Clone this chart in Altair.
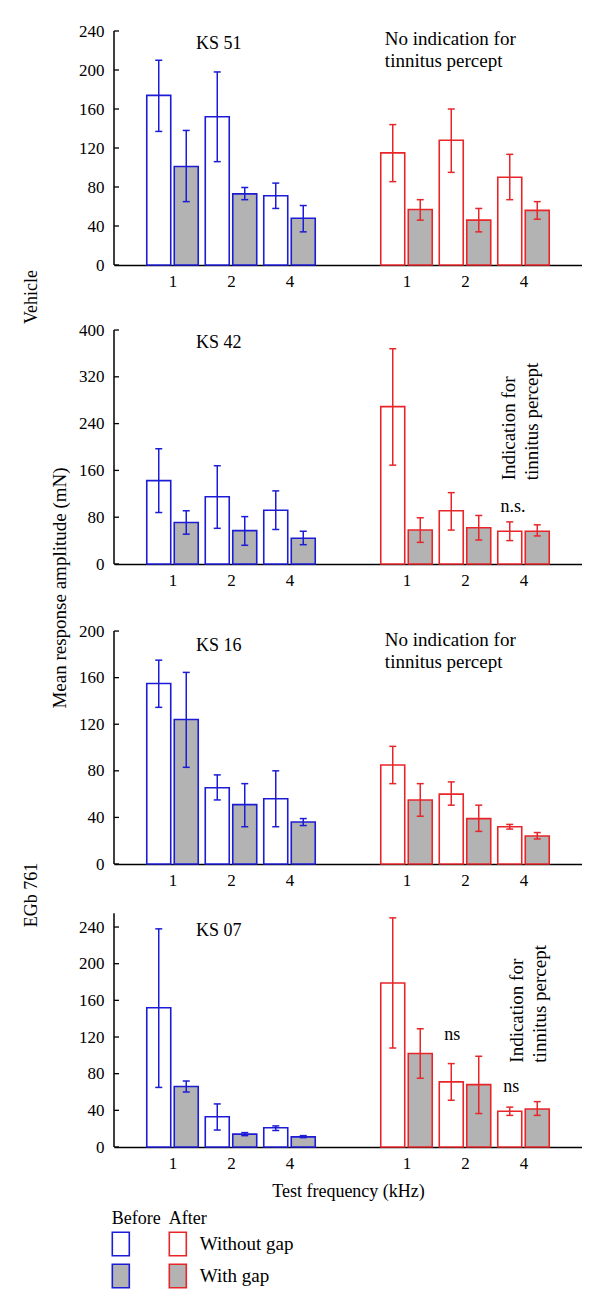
import altair as alt
import pandas as pd

# ---------------- data ----------------
FREQS = ["1", "2", "4"]
PANELS = ["KS 51", "KS 42", "KS 16", "KS 07"]
PHASES = ["Before", "After"]
GAPS = ["Without gap", "With gap"]

# means and error-bar ends, per panel, frequencies 1, 2, 4 kHz
before_without = [[174, 152, 71], [142.5, 115, 92], [155, 65.5, 56], [152, 33, 21]]
before_without_lo = [[137, 106, 58], [88, 61, 59], [134.5, 55, 32], [65, 18.5, 18]]
before_without_hi = [[210, 198, 84], [197, 168, 125], [175, 76.5, 80], [238, 47, 23]]
before_with = [[101, 73, 48], [71, 57, 44], [124, 51, 36], [66, 14, 11]]
before_with_lo = [[65, 67, 34], [51, 32, 33], [83, 32, 33], [60, 12.4, 10.2]]
before_with_hi = [[138, 79.5, 61], [91, 81, 56], [164.5, 69, 39], [72, 15.7, 12.4]]
after_without = [[115, 128, 90], [269, 91, 56], [85, 60, 32], [179, 71, 39]]
after_without_lo = [[85.5, 95, 67], [169, 58, 40], [69, 50.5, 30], [108, 51, 34.5]]
after_without_hi = [[144, 160, 113.5], [368, 122, 72], [101, 70.5, 34], [250, 91, 43.5]]
after_with = [[57, 46, 56], [58, 62, 56], [55, 39, 24], [102, 68, 41.5]]
after_with_lo = [[46, 34, 47], [37, 41, 48], [41, 28, 21.5], [75, 36.5, 34.5]]
after_with_hi = [[67, 58, 65], [79, 83, 67], [69, 50.5, 27], [129, 99, 49.5]]

Y_TICKS = [
    [0, 40, 80, 120, 160, 200, 240],
    [0, 80, 160, 240, 320, 400],
    [0, 40, 80, 120, 160, 200],
    [0, 40, 80, 120, 160, 200, 240],
]
AXIS_TOP = [240, 400, 200, 255]

SIDE_LABELS = ["Vehicle", "Mean response amplitude (mN)", "EGb 761"]
X_TITLE = "Test frequency (kHz)"

# annotations: (panel, text, frequency-slot position, value)
NOTES_KS = [(0, "KS 51", 0.79, 222), (1, "KS 42", 0.79, 370), (2, "KS 16", 0.79, 183), (3, "KS 07", 0.79, 230)]
NOTES_NS = [(1, "n.s.", 5.82, 89), (3, "ns", 4.78, 117), (3, "ns", 5.79, 60)]
NOTES_LEFT = [
    (0, "No indication for\ntinnitus percept", 3.63, 226),
    (2, "No indication for\ntinnitus percept", 3.63, 187),
]
NOTES_ROT = [
    (1, "Indication for\ntinnitus percept", 5.85, 143),
    (3, "Indication for\ntinnitus percept", 5.99, 92),
]

# ---------------- styles / layout ----------------
BLUE = "#1c1cd6"
RED = "#e8262a"
GRAY = "#b3b3b3"
FONT = "Liberation Serif"
HEIGHTS = [234, 250, 251, 234]
YMAX = [240, 427.4, 215.5, 255.3]
WIDTH = 468

rows = []
series = [
    ("Before", "Without gap", before_without, before_without_lo, before_without_hi),
    ("Before", "With gap", before_with, before_with_lo, before_with_hi),
    ("After", "Without gap", after_without, after_without_lo, after_without_hi),
    ("After", "With gap", after_with, after_with_lo, after_with_hi),
]
for p, name in enumerate(PANELS):
    for phase, gap, m, lo, hi in series:
        for k, f in enumerate(FREQS):
            slot = k + (0 if phase == "Before" else 4)
            side = -1 if gap == "Without gap" else 1
            rows.append(dict(
                panel=p, phase=phase, gap=gap, freq=f, mean=m[p][k], lo=lo[p][k], hi=hi[p][k],
                xl=slot + (-0.44 if side < 0 else 0.03),
                xr=slot + (-0.03 if side < 0 else 0.44),
                xc=slot + 0.235 * side,
            ))
df = pd.DataFrame(rows)

tick_slots = [0, 1, 2, 4, 5, 6]
label_arr = FREQS + [""] + FREQS
label_expr = "[" + ",".join("'%s'" % s for s in label_arr) + "][datum.value]"

fill_scale = alt.Scale(domain=GAPS, range=["white", GRAY])
stroke_scale = alt.Scale(domain=PHASES, range=[BLUE, RED])


def note_layer(notes, X, Y, **kw):
    return alt.Chart(pd.DataFrame(notes, columns=["p", "t", "x", "y"])).mark_text(
        font=FONT, baseline="alphabetic", color="black", **kw
    ).encode(x=X("x"), y=Y("y"), text="t:N")


def panel(i):
    d = df[df.panel == i]
    xs = alt.Scale(domain=[-1, 7], nice=False, zero=False)
    ys = alt.Scale(domain=[0, YMAX[i]], nice=False, zero=False)
    xaxis_kw = dict(values=tick_slots, labelExpr=label_expr, grid=False, ticks=False, tickSize=0,
                    labelPadding=21, labelBaseline="alphabetic", domainColor="black",
                    domainWidth=1.5, labelFont=FONT, labelFontSize=17, labelColor="black")
    if i == 3:
        xaxis = alt.Axis(title=X_TITLE, titleY=49, titleBaseline="alphabetic", titleFont=FONT,
                         titleFontSize=18, titleFontWeight="normal", titleColor="black", **xaxis_kw)
    else:
        xaxis = alt.Axis(title=None, **xaxis_kw)
    yaxis = alt.Axis(values=Y_TICKS[i], grid=False, ticks=False, tickSize=0, domain=False, title=None,
                     labelPadding=10, labelFont=FONT, labelFontSize=17, labelColor="black",
                     labelBaseline="middle")

    def X(f):
        return alt.X(f, type="quantitative", scale=xs, axis=xaxis)

    def Y(f):
        return alt.Y(f, type="quantitative", scale=ys, axis=yaxis)

    base = alt.Chart(d)
    bars = base.mark_rect(strokeWidth=1.6).encode(
        x=X("xl"), x2="xr", y=Y("mean"), y2=alt.datum(0),
        fill=alt.Fill("gap:N", scale=fill_scale, legend=None),
        stroke=alt.Stroke("phase:N", scale=stroke_scale, legend=None),
    )
    err = base.mark_rule(strokeWidth=1.5).encode(
        x=X("xc"), y=Y("lo"), y2="hi",
        color=alt.Color("phase:N", scale=stroke_scale, legend=None),
    )
    caps = base.transform_fold(["lo", "hi"], as_=["end", "capv"]).mark_tick(
        orient="horizontal", size=7, thickness=1.5, opacity=1
    ).encode(
        x=X("xc"), y=Y("capv:Q"),
        color=alt.Color("phase:N", scale=stroke_scale, legend=None),
    )
    axis_line = alt.Chart(pd.DataFrame({"lo": [0], "hi": [AXIS_TOP[i]]})).mark_rule(
        strokeWidth=1.5, color="black"
    ).encode(x=alt.value(0), y=Y("lo"), y2="hi")
    ticks = alt.Chart(pd.DataFrame({"v": Y_TICKS[i]})).mark_tick(
        orient="horizontal", size=5, thickness=1.3, color="black", opacity=1
    ).encode(x=alt.value(2.5), y=Y("v"))

    layers = [bars, err, caps, axis_line, ticks]

    ks = [n for n in NOTES_KS if n[0] == i]
    if ks:
        layers.append(note_layer(ks, X, Y, fontSize=18, align="center"))
    ns = [n for n in NOTES_NS if n[0] == i]
    if ns:
        layers.append(note_layer(ns, X, Y, fontSize=18, align="center"))
    nl = [n for n in NOTES_LEFT if n[0] == i]
    if nl:
        layers.append(note_layer(nl, X, Y, fontSize=19, align="left", lineBreak="\n", lineHeight=22))
    nr = [n for n in NOTES_ROT if n[0] == i]
    if nr:
        layers.append(note_layer(nr, X, Y, fontSize=19, align="left", lineBreak="\n",
                                 lineHeight=23, angle=270))

    one = pd.DataFrame({"a": [0]})
    side_pos = {0: (SIDE_LABELS[0], -77, 266, 18), 1: (SIDE_LABELS[1], -48, 274, 19),
                3: (SIDE_LABELS[2], -77, -18, 18)}
    if i in side_pos:
        t, px, py, fs = side_pos[i]
        layers.append(alt.Chart(one).mark_text(
            font=FONT, fontSize=fs, align="center", baseline="alphabetic", color="black", angle=270
        ).encode(x=alt.value(px), y=alt.value(py), text=alt.value(t)))
    if i == 0:
        # invisible anchor fixing the page offset of the plot area
        layers.append(alt.Chart(one).mark_rule(opacity=0).encode(
            x=alt.value(-106), x2=alt.value(-105), y=alt.value(-23), y2=alt.value(-22)))

    return alt.layer(*layers).properties(width=WIDTH, height=HEIGHTS[i])


# ---------------- legend ----------------
leg_rows = []
for c, ph in enumerate(PHASES):
    for r, g in enumerate(GAPS):
        leg_rows.append(dict(c=c, r=r, phase=ph, gap=g))
leg = pd.DataFrame(leg_rows)
lx = alt.Scale(domain=[0, 1], range=[6.8, 63.8])
ly = alt.Scale(domain=[0, 1], range=[48, 80])
box_path = "M-0.726,-1H0.726V1H-0.726Z"
boxes = alt.Chart(leg).mark_point(shape=box_path, size=548, filled=True, strokeWidth=1.6, opacity=1).encode(
    x=alt.X("c:Q", scale=lx, axis=None), y=alt.Y("r:Q", scale=ly, axis=None),
    fill=alt.Fill("gap:N", scale=fill_scale, legend=None),
    stroke=alt.Stroke("phase:N", scale=stroke_scale, legend=None),
)
heads = alt.Chart(pd.DataFrame({"c": [0, 1], "r": [0, 0], "t": PHASES})).mark_text(
    font=FONT, fontSize=18, align="left", baseline="alphabetic", dx=-9, dy=-20, color="black"
).encode(x=alt.X("c:Q", scale=lx, axis=None), y=alt.Y("r:Q", scale=ly, axis=None), text="t:N")
names = alt.Chart(pd.DataFrame({"c": [1, 1], "r": [0, 1], "t": GAPS})).mark_text(
    font=FONT, fontSize=19, align="left", baseline="alphabetic", dx=22, dy=6, color="black"
).encode(x=alt.X("c:Q", scale=lx, axis=None), y=alt.Y("r:Q", scale=ly, axis=None), text="t:N")
legend = alt.layer(boxes, heads, names).properties(width=WIDTH, height=100)

chart = alt.vconcat(
    panel(0), panel(1), panel(2), panel(3), legend, spacing=49, bounds="flush"
).properties(padding=0).configure_view(stroke=None)

chart.save("out.html", embed_options={"renderer": "svg", "actions": False})
